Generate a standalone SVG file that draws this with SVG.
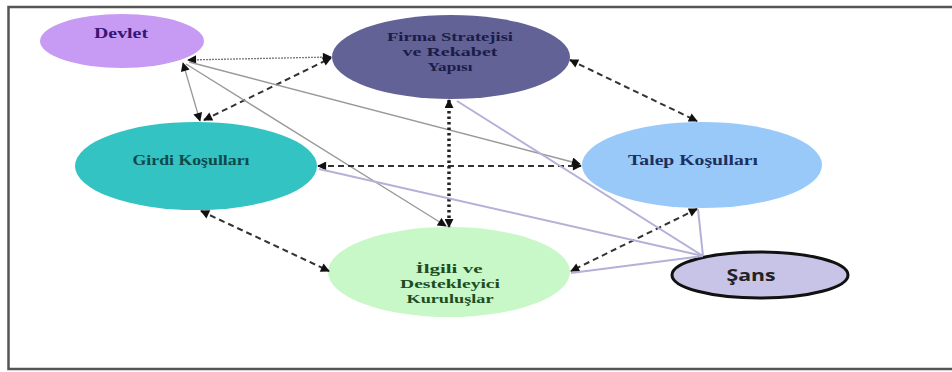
<svg xmlns="http://www.w3.org/2000/svg" width="952" height="372" viewBox="0 0 952 372">
<defs>
<marker id="ah" viewBox="0 0 10 10" refX="9" refY="5" markerWidth="11" markerHeight="9" markerUnits="userSpaceOnUse" orient="auto-start-reverse">
<path d="M0,0 L10,5 L0,10 z" fill="#111"/>
</marker>
</defs>
<style>
.t{font-family:"Liberation Serif","Times New Roman",serif;font-weight:bold;font-size:15px;text-anchor:middle}
.m{font-size:12.5px}
.dash{fill:none;stroke:#333;stroke-width:2;stroke-dasharray:6 4;marker-start:url(#ah);marker-end:url(#ah)}
.gray{fill:none;stroke:#999;stroke-width:1.3}
.lav{fill:none;stroke:#b4b0d8;stroke-width:2}
</style>
<rect x="0" y="0" width="952" height="372" fill="#fff"/>
<rect x="8.5" y="7" width="960" height="362" fill="none" stroke="#555" stroke-width="2.5"/>

<g id="devlet">
<ellipse cx="122" cy="41" rx="82" ry="27" fill="#c79af4"/>
<text class="t" x="121" y="38" fill="#3a1670" font-size="14" textLength="54" lengthAdjust="spacingAndGlyphs">Devlet</text>
</g>
<g id="firma">
<ellipse cx="451" cy="57" rx="119" ry="42" fill="#626296"/>
<text class="t m" x="450" y="41" fill="#1c1c48" textLength="126" lengthAdjust="spacingAndGlyphs">Firma Stratejisi</text>
<text class="t m" x="450" y="56" fill="#1c1c48" textLength="95" lengthAdjust="spacingAndGlyphs">ve Rekabet</text>
<text class="t m" x="450" y="71" fill="#1c1c48" textLength="45" lengthAdjust="spacingAndGlyphs">Yapısı</text>
</g>
<g id="girdi">
<ellipse cx="196" cy="166" rx="121" ry="44" fill="#33c3c3"/>
<text class="t" x="191" y="165" fill="#0e4a4a" textLength="117" lengthAdjust="spacingAndGlyphs">Girdi Koşulları</text>
</g>
<g id="talep">
<ellipse cx="702" cy="165" rx="120" ry="43" fill="#99c9f8"/>
<text class="t" x="693" y="165" fill="#1b3060" textLength="130" lengthAdjust="spacingAndGlyphs">Talep Koşulları</text>
</g>
<g id="ilgili">
<ellipse cx="449" cy="272" rx="121" ry="45" fill="#c8f8c8"/>
<text class="t m" x="449" y="273" fill="#1d4d1d" textLength="67" lengthAdjust="spacingAndGlyphs">İlgili ve</text>
<text class="t m" x="450" y="288" fill="#1d4d1d" textLength="100" lengthAdjust="spacingAndGlyphs">Destekleyici</text>
<text class="t m" x="450" y="303" fill="#1d4d1d" textLength="87" lengthAdjust="spacingAndGlyphs">Kuruluşlar</text>
</g>
<g id="sans">
<ellipse cx="760" cy="275" rx="88" ry="23" fill="#c8c4e8" stroke="#111" stroke-width="3"/>
<text x="751" y="281" fill="#222" font-family="'Open Sans','Liberation Sans',sans-serif" font-weight="bold" font-size="16" text-anchor="middle" textLength="49" lengthAdjust="spacingAndGlyphs">Şans</text>
</g>

<g id="connectors">
<line x1="188" y1="60" x2="331" y2="57" fill="none" stroke="#777" stroke-width="1.3" stroke-dasharray="2 1" marker-start="url(#ah)" marker-end="url(#ah)"/>
<line class="gray" x1="183" y1="63" x2="200" y2="121" marker-start="url(#ah)" marker-end="url(#ah)"/>
<line class="dash" x1="204" y1="120" x2="331" y2="58"/>
<line class="gray" x1="186" y1="64" x2="446" y2="226" marker-end="url(#ah)"/>
<line class="gray" x1="189" y1="62" x2="580" y2="164" marker-end="url(#ah)"/>
<line class="dash" x1="318" y1="166" x2="581" y2="166"/>
<line x1="449" y1="100" x2="449" y2="227" fill="none" stroke="#222" stroke-width="3.5" stroke-dasharray="2.5 3" marker-start="url(#ah)" marker-end="url(#ah)"/>
<line class="dash" x1="570" y1="60" x2="697" y2="121"/>
<line class="dash" x1="201" y1="211" x2="329" y2="271"/>
<line class="dash" x1="697" y1="209" x2="571" y2="271"/>
<line class="lav" x1="703" y1="256" x2="457" y2="101"/>
<line class="lav" x1="703" y1="256" x2="319" y2="169"/>
<line class="lav" x1="703" y1="256" x2="571" y2="273"/>
<line class="lav" x1="703" y1="256" x2="698" y2="209"/>
</g>
</svg>
